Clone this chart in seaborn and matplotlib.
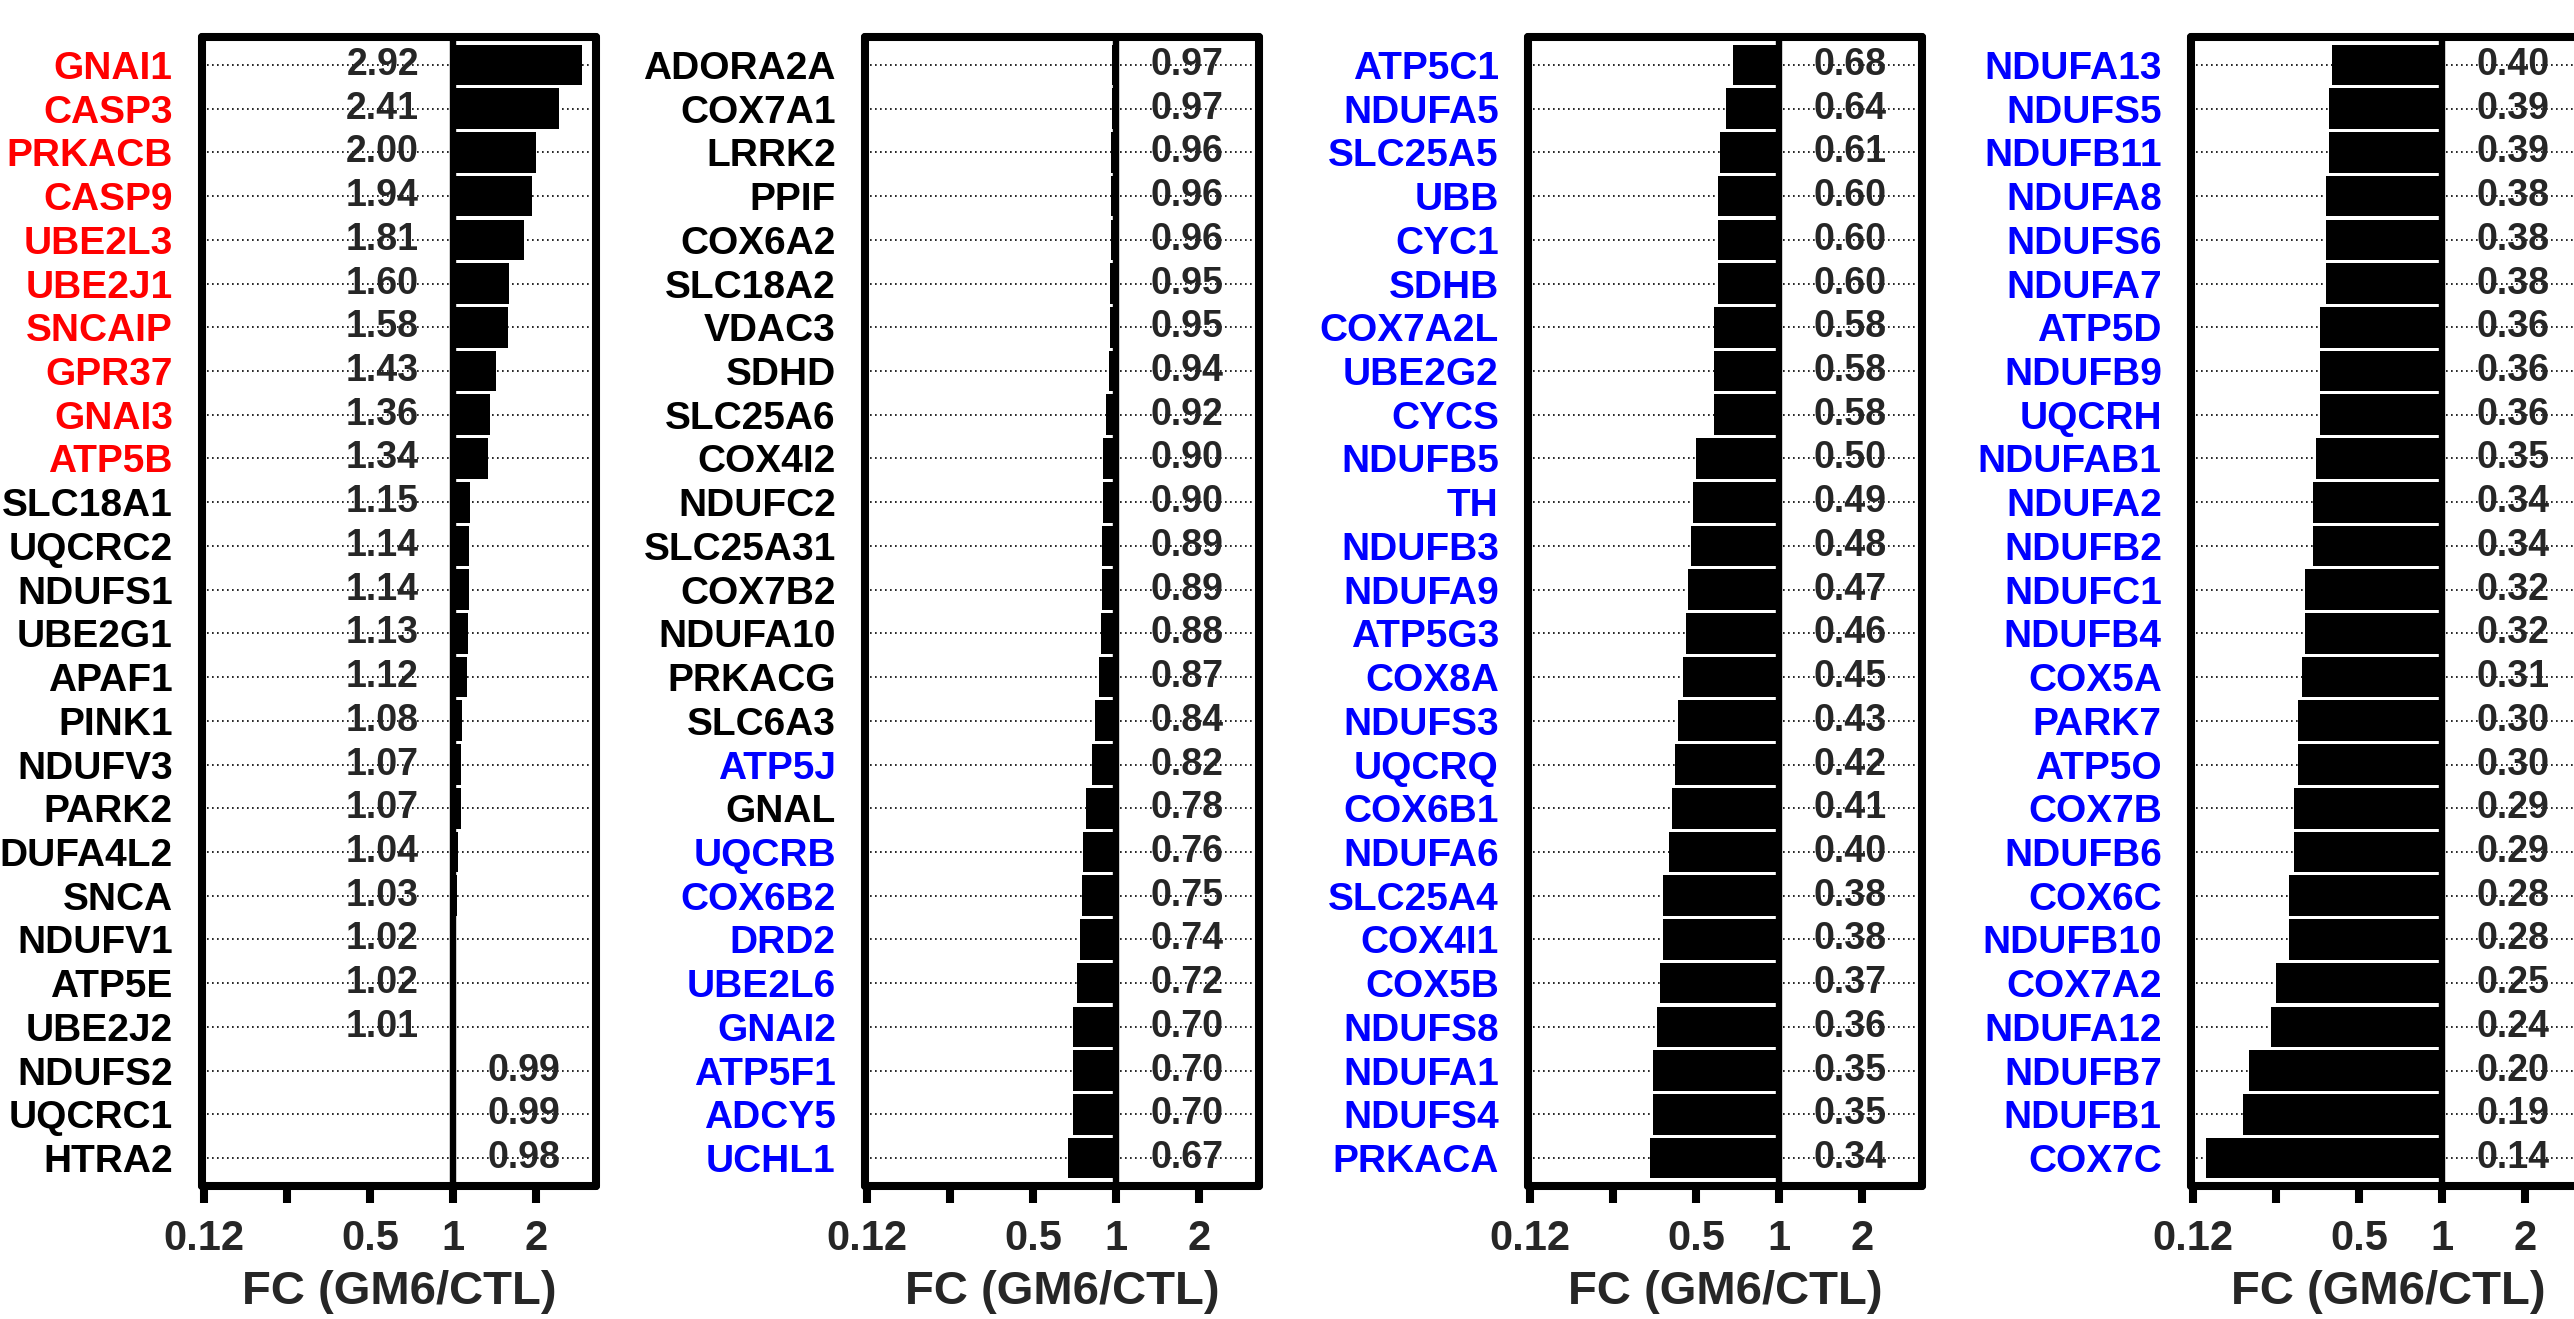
import numpy as np
import pandas as pd
import matplotlib
matplotlib.use("Agg")
import matplotlib.pyplot as plt
import seaborn as sns
from matplotlib.ticker import FixedLocator, FixedFormatter

# ---------------- data ----------------
p1_genes = ["GNAI1", "CASP3", "PRKACB", "CASP9", "UBE2L3", "UBE2J1", "SNCAIP", "GPR37",
            "GNAI3", "ATP5B", "SLC18A1", "UQCRC2", "NDUFS1", "UBE2G1", "APAF1", "PINK1",
            "NDUFV3", "PARK2", "DUFA4L2", "SNCA", "NDUFV1", "ATP5E", "UBE2J2", "NDUFS2",
            "UQCRC1", "HTRA2"]
p1_fc = [2.92, 2.41, 2.00, 1.94, 1.81, 1.60, 1.58, 1.43, 1.36, 1.34, 1.15, 1.14, 1.14,
         1.13, 1.12, 1.08, 1.07, 1.07, 1.04, 1.03, 1.02, 1.02, 1.01, 0.99, 0.99, 0.98]
p1_colors = ["red"] * 10 + ["black"] * 16

p2_genes = ["ADORA2A", "COX7A1", "LRRK2", "PPIF", "COX6A2", "SLC18A2", "VDAC3", "SDHD",
            "SLC25A6", "COX4I2", "NDUFC2", "SLC25A31", "COX7B2", "NDUFA10", "PRKACG",
            "SLC6A3", "ATP5J", "GNAL", "UQCRB", "COX6B2", "DRD2", "UBE2L6", "GNAI2",
            "ATP5F1", "ADCY5", "UCHL1"]
p2_fc = [0.97, 0.97, 0.96, 0.96, 0.96, 0.95, 0.95, 0.94, 0.92, 0.90, 0.90, 0.89, 0.89,
         0.88, 0.87, 0.84, 0.82, 0.78, 0.76, 0.75, 0.74, 0.72, 0.70, 0.70, 0.70, 0.67]
p2_colors = ["black"] * 16 + ["blue", "black"] + ["blue"] * 8

p3_genes = ["ATP5C1", "NDUFA5", "SLC25A5", "UBB", "CYC1", "SDHB", "COX7A2L", "UBE2G2",
            "CYCS", "NDUFB5", "TH", "NDUFB3", "NDUFA9", "ATP5G3", "COX8A", "NDUFS3",
            "UQCRQ", "COX6B1", "NDUFA6", "SLC25A4", "COX4I1", "COX5B", "NDUFS8", "NDUFA1",
            "NDUFS4", "PRKACA"]
p3_fc = [0.68, 0.64, 0.61, 0.60, 0.60, 0.60, 0.58, 0.58, 0.58, 0.50, 0.49, 0.48, 0.47,
         0.46, 0.45, 0.43, 0.42, 0.41, 0.40, 0.38, 0.38, 0.37, 0.36, 0.35, 0.35, 0.34]
p3_colors = ["blue"] * 26

p4_genes = ["NDUFA13", "NDUFS5", "NDUFB11", "NDUFA8", "NDUFS6", "NDUFA7", "ATP5D", "NDUFB9",
            "UQCRH", "NDUFAB1", "NDUFA2", "NDUFB2", "NDUFC1", "NDUFB4", "COX5A", "PARK7",
            "ATP5O", "COX7B", "NDUFB6", "COX6C", "NDUFB10", "COX7A2", "NDUFA12", "NDUFB7",
            "NDUFB1", "COX7C"]
p4_fc = [0.40, 0.39, 0.39, 0.38, 0.38, 0.38, 0.36, 0.36, 0.36, 0.35, 0.34, 0.34, 0.32,
         0.32, 0.31, 0.30, 0.30, 0.29, 0.29, 0.28, 0.28, 0.25, 0.24, 0.20, 0.19, 0.14]
p4_colors = ["blue"] * 26

tick_values = [0.125, 0.25, 0.5, 1, 2]
tick_labels = ["0.12", "", "0.5", "1", "2"]
x_label = "FC (GM6/CTL)"

panels = [(p1_genes, p1_fc, p1_colors), (p2_genes, p2_fc, p2_colors),
          (p3_genes, p3_fc, p3_colors), (p4_genes, p4_fc, p4_colors)]

# ---------------- style ----------------
sns.set_style("white")
plt.rcParams["font.family"] = ["Liberation Sans", "DejaVu Sans"]
plt.rcParams["font.weight"] = "bold"

W, H = 2574, 1319
fig = plt.figure(figsize=(W / 100, H / 100), dpi=100)

color_map = {"red": "#FF0000", "blue": "#0000FF", "black": "#000000"}

for i, (genes, fc, cols) in enumerate(panels):
    left_px = 202 + 663 * i
    ax = fig.add_axes([left_px / W, 1 - 1186 / H, 394 / W, 1149 / H])
    df = pd.DataFrame({"gene": genes, "log2fc": np.log2(fc)})
    sns.barplot(data=df, x="log2fc", y="gene", orient="h", color="black",
                saturation=1, width=0.93, ax=ax, zorder=2, linewidth=0)
    ax.set_axisbelow(True)
    ax.yaxis.grid(True, linestyle=(0, (1, 2)), color="black", linewidth=1.2, zorder=0)
    ax.xaxis.grid(False)
    ax.axvline(0, color="black", linewidth=4.6, zorder=3)

    for j, v in enumerate(fc):
        if v > 1:
            ax.text(-0.41, j, f"{v:.2f}", ha="right", va="center",
                    fontsize=27, fontweight="bold", zorder=4)
        else:
            ax.text(0.41, j, f"{v:.2f}", ha="left", va="center",
                    fontsize=27, fontweight="bold", zorder=4)

    ax.set_xlim(-3.02, 1.72)
    ax.set_ylim(25.64, -0.64)
    ax.xaxis.set_major_locator(FixedLocator(np.log2(tick_values)))
    ax.xaxis.set_major_formatter(FixedFormatter(tick_labels))
    ax.tick_params(axis="x", direction="out", length=12, width=5.8, pad=12,
                   labelsize=30, bottom=True, color="black")
    ax.tick_params(axis="y", length=0, pad=21, labelsize=28)
    for lab in ax.get_xticklabels():
        lab.set_fontweight("bold")
    for lab, c in zip(ax.get_yticklabels(), cols):
        lab.set_color(color_map[c])
        lab.set_fontweight("bold")
    for sp in ax.spines.values():
        sp.set_visible(True)
        sp.set_linewidth(5.8)
        sp.set_color("black")
        sp.set_capstyle("round")
    ax.set_ylabel("")
    ax.set_xlabel(x_label, fontsize=34, fontweight="bold", labelpad=8)

fig.savefig("out.png", dpi=100)
